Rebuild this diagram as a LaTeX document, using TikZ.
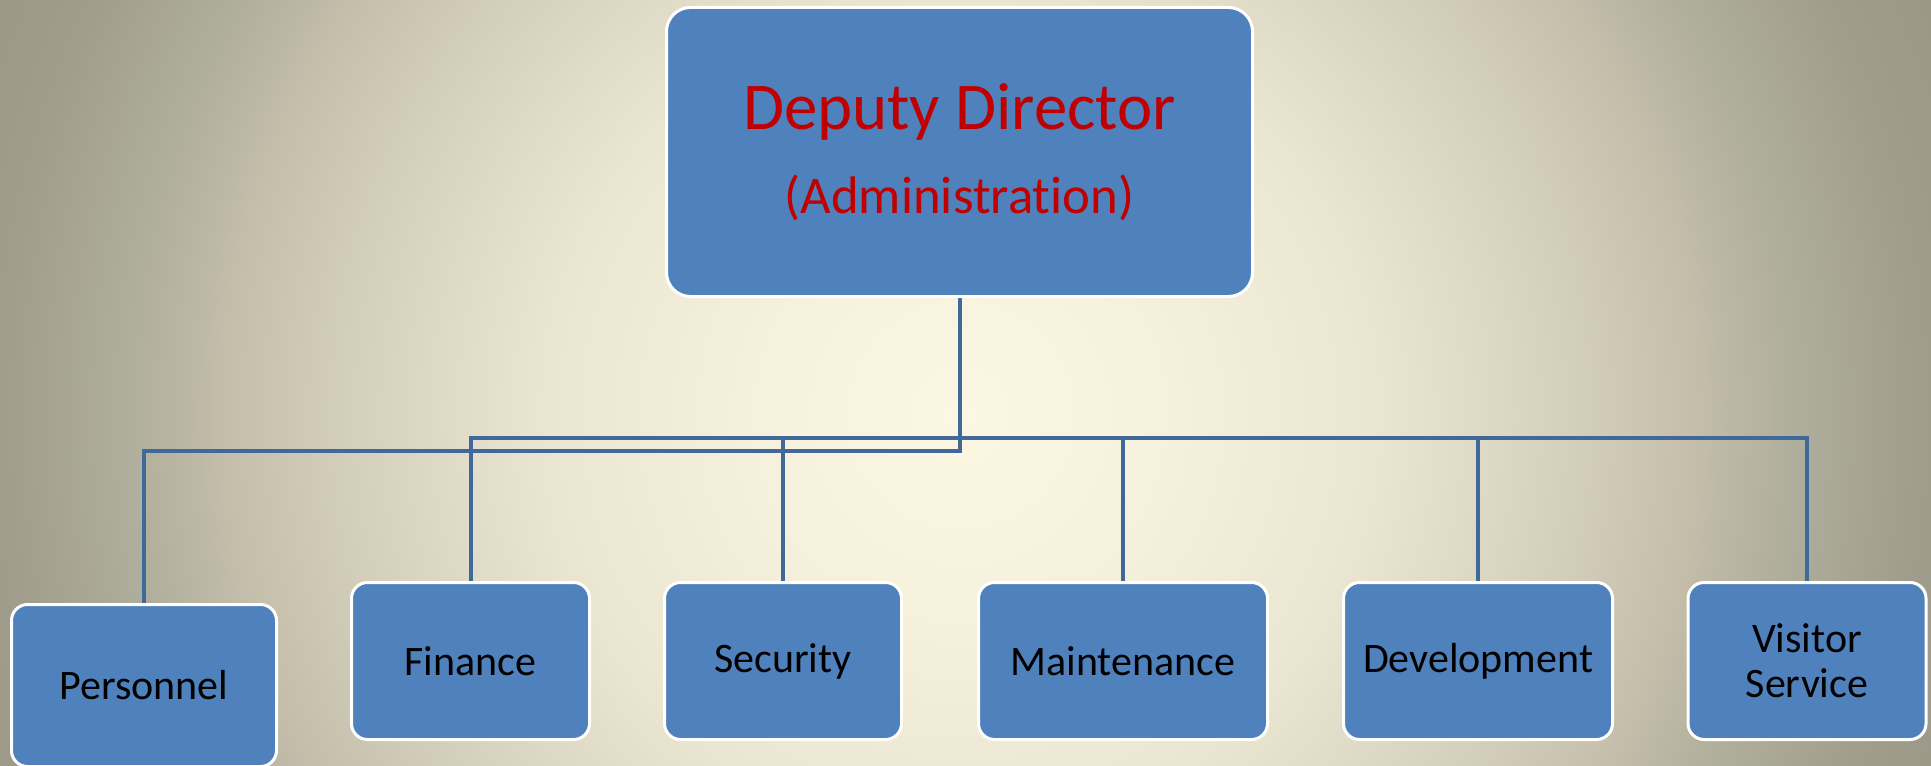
\documentclass[tikz,border=0pt]{standalone}
\usepackage{fontspec}
\setmainfont{Carlito}[Ligatures=NoCommon]
\usetikzlibrary{backgrounds}
\definecolor{boxblue}{HTML}{4F81BD}
\definecolor{linkblue}{HTML}{41689A}
\definecolor{titlered}{HTML}{C00000}
\definecolor{bgA}{HTML}{FBF7E2}
\definecolor{bgB}{HTML}{F6F1DC}
\definecolor{bgC}{HTML}{EBE6D2}
\definecolor{bgD}{HTML}{DEDAC6}
\definecolor{bgE}{HTML}{D2CDB9}
\definecolor{bgF}{HTML}{C3BDAA}
\definecolor{bgG}{HTML}{B0AE9C}
\definecolor{bgH}{HTML}{A09D8C}
\definecolor{bgI}{HTML}{979483}
\pgfdeclareradialshading{bgshade}{\pgfpoint{0pt}{0pt}}{color(0pt)=(bgA); color(100pt)=(bgB); color(205pt)=(bgC); color(260pt)=(bgD); color(315pt)=(bgE); color(370pt)=(bgF); color(415pt)=(bgG); color(480pt)=(bgH); color(560pt)=(bgI); color(600pt)=(bgI)}
\tikzset{
  topbox/.style={draw=white, line width=1.5pt, fill=boxblue, rounded corners=12pt,
    inner sep=0pt, align=center, text=titlered},
  unitbox/.style={draw=white, line width=1.5pt, fill=boxblue, rounded corners=8pt,
    inner sep=0pt, align=center, text=black, minimum height=78.5pt,
    font=\fontsize{21pt}{22.5pt}\selectfont},
  conn/.style={draw=linkblue, line width=2pt, line join=miter}
}
\begin{document}
\begin{tikzpicture}[x=0.5pt, y=-0.5pt]
\useasboundingbox (0,0) rectangle (1931,765);
% boxes
\node[topbox, minimum width=293pt, minimum height=144.5pt,
      font=\fontsize{26.4pt}{42pt}\selectfont] (top) at (959.5,152)
  {{\fontsize{33.4pt}{42pt}\selectfont Deputy Director}\\(Administration)};
\node[unitbox, minimum width=132.5pt, minimum height=81pt] (pers) at (144,685.5) {Personnel};
\node[unitbox, minimum width=119pt] (fin) at (470.5,661) {Finance};
\node[unitbox, minimum width=118.5pt] (sec) at (783,661) {Security};
\node[unitbox, minimum width=144.5pt] (maint) at (1123,661) {Maintenance};
\node[unitbox, minimum width=134.5pt] (dev) at (1478,661) {Development};
\node[unitbox, minimum width=119pt] (vis) at (1807,661) {Visitor\\Service};
\coordinate (busP) at (0,451);
\coordinate (busQ) at (0,438);
\begin{scope}[on background layer]
  \begin{scope}
    \clip (0,0) rectangle (1931,765);
    \node[inner sep=0pt, outer sep=0pt] (bg) at (960,415) {\pgfuseshading{bgshade}};
  \end{scope}
  \draw[conn] (top.south) -- (top.south |- busP) -| (pers.north);
  \draw[conn] (fin.north) -- (fin.north |- busQ) -| (vis.north);
  \draw[conn] (sec.north |- busQ) -- (sec.north);
  \draw[conn] (maint.north |- busQ) -- (maint.north);
  \draw[conn] (dev.north |- busQ) -- (dev.north);
\end{scope}
\end{tikzpicture}
\end{document}
